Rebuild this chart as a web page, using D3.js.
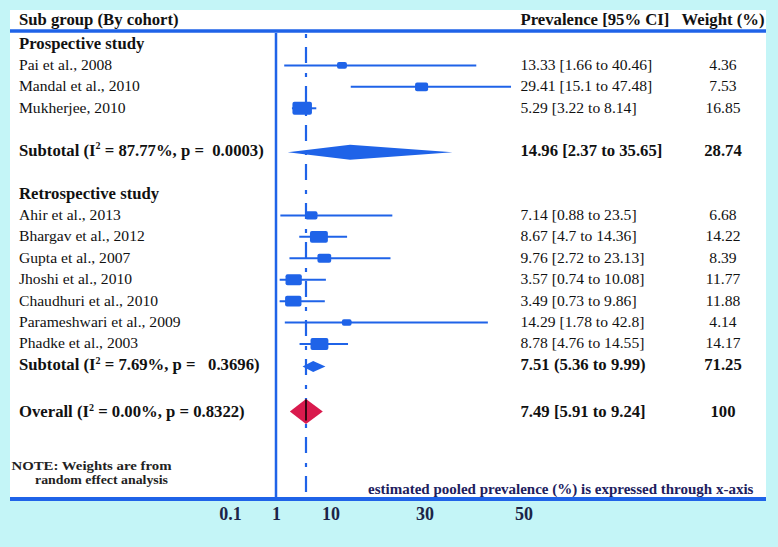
<!DOCTYPE html>
<html><head><meta charset="utf-8">
<script src="https://cdn.jsdelivr.net/npm/d3@7"></script>
<style>
body{margin:0;background:#c4f5f7}
svg{display:block}
text{font-family:"Liberation Serif","Times New Roman",serif;white-space:pre}
</style>
</head><body>
<svg id="chart" width="778" height="547"></svg>
<script>
// ---------------- data ----------------
const groups = ["Prospective study", "Retrospective study"];
const studies = ["Pai et al., 2008", "Mandal et al., 2010", "Mukherjee, 2010",
  "Ahir et al., 2013", "Bhargav et al., 2012", "Gupta et al., 2007", "Jhoshi et al., 2010",
  "Chaudhuri et al., 2010", "Parameshwari et al., 2009", "Phadke et al., 2003"];
const studyGroup = [0, 0, 0, 1, 1, 1, 1, 1, 1, 1];
const prevalence = [13.33, 29.41, 5.29, 7.14, 8.67, 9.76, 3.57, 3.49, 14.29, 8.78];
const ciLower = [1.66, 15.1, 3.22, 0.88, 4.7, 2.72, 0.74, 0.73, 1.78, 4.76];
const ciUpper = [40.46, 47.48, 8.14, 23.5, 14.36, 23.13, 10.08, 9.86, 42.8, 14.55];
const weights = [4.36, 7.53, 16.85, 6.68, 14.22, 8.39, 11.77, 11.88, 4.14, 14.17];

const subI2 = ["87.77%", "7.69%"];
const subP = [" 0.0003", "  0.3696"];
const subEst = [14.96, 7.51];
const subLower = [2.37, 5.36];
const subUpper = [35.65, 9.99];
const subText = ["14.96 [2.37 to 35.65]", "7.51 (5.36 to 9.99)"];
const subWeight = ["28.74", "71.25"];

const overallI2 = "0.00%";
const overallP = "0.8322";
const overallText = "7.49 [5.91 to 9.24]";
const overallWeight = "100";
// overall diamond as it is pictured (lower, centre, upper)
const overallDrawn = [2.8, 6.06, 9.45];
const referenceLine = 6.06;

const tickValues = [-9.3, 0, 11, 30, 50];
const tickLabels = ["0.1", "1", "10", "30", "50"];

// ---------------- layout ----------------
const svg = d3.select("#chart");
const BLUE = "#1f63e8";
const x = d3.scaleLinear().domain([0, 50]).range([276, 523.5]);
const y = d3.scaleLinear().domain([1, 15]).range([43, 343]);
const boxW = d3.scaleSqrt().domain([0, 16.85]).range([0, 19.5]);
const boxH = d3.scaleSqrt().domain([0, 16.85]).range([0, 13]);

const panelTop = 10, panelBottom = 499, panelLeft = 10, panelRight = 766;
const colName = 19, colCI = 520.5, colW = 723;
const FS = 15.6, FB = 16.7;

svg.append("rect").attr("x", panelLeft).attr("y", panelTop)
  .attr("width", panelRight - panelLeft).attr("height", panelBottom - panelTop)
  .attr("fill", "#fff");

// header
svg.append("text").attr("x", colName).attr("y", 19).attr("dy", "0.35em")
  .attr("font-size", FB).attr("font-weight", "bold").attr("fill", "#111")
  .text("Sub group (By cohort)");
svg.append("text").attr("x", colCI).attr("y", 19).attr("dy", "0.35em")
  .attr("font-size", FB).attr("font-weight", "bold").attr("fill", "#111")
  .text("Prevalence [95% CI]");
svg.append("text").attr("x", colW).attr("y", 19).attr("dy", "0.35em")
  .attr("text-anchor", "middle")
  .attr("font-size", FB).attr("font-weight", "bold").attr("fill", "#111")
  .text("Weight (%)");
svg.append("line").attr("x1", panelLeft).attr("x2", panelRight)
  .attr("y1", 31).attr("y2", 31).attr("stroke", BLUE).attr("stroke-width", 3.5);

// vertical lines
svg.append("line").attr("x1", x(0)).attr("x2", x(0))
  .attr("y1", 33).attr("y2", panelBottom).attr("stroke", BLUE).attr("stroke-width", 2.5);
svg.append("line").attr("x1", x(referenceLine)).attr("x2", x(referenceLine))
  .attr("y1", 34).attr("y2", panelBottom).attr("stroke", BLUE).attr("stroke-width", 2.2)
  .attr("stroke-dasharray", "4,9,16,10");

// rows
const rowsOfStudies = [2, 3, 4, 9, 10, 11, 12, 13, 14, 15];
const groupRow = [1, 8];
const subRow = [6, 16];
const overallRow = 18.2;

groups.forEach((g, i) => {
  svg.append("text").attr("x", colName).attr("y", y(groupRow[i])).attr("dy", "0.35em")
    .attr("font-size", FB).attr("font-weight", "bold").attr("fill", "#111").text(g);
});

const st = svg.append("g").selectAll("g").data(studies).join("g");
st.append("text").attr("x", colName).attr("y", (d, i) => y(rowsOfStudies[i])).attr("dy", "0.35em")
  .attr("font-size", FS).attr("fill", "#111").text(d => d);
st.append("text").attr("x", colCI).attr("y", (d, i) => y(rowsOfStudies[i])).attr("dy", "0.35em")
  .attr("font-size", FS).attr("fill", "#111")
  .text((d, i) => `${prevalence[i]} [${ciLower[i]} to ${ciUpper[i]}]`);
st.append("text").attr("x", colW).attr("y", (d, i) => y(rowsOfStudies[i])).attr("dy", "0.35em")
  .attr("text-anchor", "middle").attr("font-size", FS).attr("fill", "#111")
  .text((d, i) => weights[i].toFixed(2));
st.append("line")
  .attr("x1", (d, i) => x(ciLower[i])).attr("x2", (d, i) => x(ciUpper[i]))
  .attr("y1", (d, i) => y(rowsOfStudies[i]) + 1).attr("y2", (d, i) => y(rowsOfStudies[i]) + 1)
  .attr("stroke", BLUE).attr("stroke-width", 2);
st.append("rect")
  .attr("x", (d, i) => x(prevalence[i]) - boxW(weights[i]) / 2)
  .attr("y", (d, i) => y(rowsOfStudies[i]) + 1 - boxH(weights[i]) / 2)
  .attr("width", (d, i) => boxW(weights[i]))
  .attr("height", (d, i) => boxH(weights[i]))
  .attr("rx", 2).attr("fill", BLUE);

function statLabel(sel, prefix, i2, p) {
  sel.append("tspan").text(prefix + " (I");
  sel.append("tspan").attr("font-size", FB * 0.6).attr("dy", -6.5).text("2");
  sel.append("tspan").attr("dy", 6.5).text(` = ${i2}, p = ${p})`);
}

function diamond(lo, est, hi, cy, h) {
  return `M${x(lo)},${cy}L${x(est)},${cy - h / 2}L${x(hi)},${cy}L${x(est)},${cy + h / 2}Z`;
}

const subH = [15, 11];
groups.forEach((g, i) => {
  const cy = y(subRow[i]);
  const t = svg.append("text").attr("x", colName).attr("y", cy).attr("dy", "0.35em")
    .attr("font-size", FB).attr("font-weight", "bold").attr("fill", "#111");
  statLabel(t, "Subtotal", subI2[i], subP[i]);
  svg.append("text").attr("x", colCI).attr("y", cy).attr("dy", "0.35em")
    .attr("font-size", FB).attr("font-weight", "bold").attr("fill", "#111").text(subText[i]);
  svg.append("text").attr("x", colW).attr("y", cy).attr("dy", "0.35em").attr("text-anchor", "middle")
    .attr("font-size", FB).attr("font-weight", "bold").attr("fill", "#111").text(subWeight[i]);
  svg.append("path").attr("d", diamond(subLower[i], subEst[i], subUpper[i], cy + 2, subH[i]))
    .attr("fill", BLUE);
});

// overall
{
  const cy = y(overallRow);
  const t = svg.append("text").attr("x", colName).attr("y", cy).attr("dy", "0.35em")
    .attr("font-size", FB).attr("font-weight", "bold").attr("fill", "#111");
  statLabel(t, "Overall", overallI2, overallP);
  svg.append("text").attr("x", colCI).attr("y", cy).attr("dy", "0.35em")
    .attr("font-size", FB).attr("font-weight", "bold").attr("fill", "#111").text(overallText);
  svg.append("text").attr("x", colW).attr("y", cy).attr("dy", "0.35em").attr("text-anchor", "middle")
    .attr("font-size", FB).attr("font-weight", "bold").attr("fill", "#111").text(overallWeight);
  svg.append("path").attr("d", diamond(overallDrawn[0], overallDrawn[1], overallDrawn[2], cy, 25))
    .attr("fill", "#d91a4d");
  svg.append("line").attr("x1", x(overallDrawn[1])).attr("x2", x(overallDrawn[1]))
    .attr("y1", cy - 12).attr("y2", cy + 9).attr("stroke", "#000").attr("stroke-width", 1.5);
}

// note
svg.append("text").attr("x", 11.5).attr("y", 465.5).attr("dy", "0.35em")
  .attr("font-size", 12).attr("font-weight", "bold").attr("fill", "#222")
  .attr("textLength", 160).attr("lengthAdjust", "spacingAndGlyphs")
  .text("NOTE: Weights are from");
svg.append("text").attr("x", 35).attr("y", 479.5).attr("dy", "0.35em")
  .attr("font-size", 12).attr("font-weight", "bold").attr("fill", "#222")
  .attr("textLength", 133).attr("lengthAdjust", "spacingAndGlyphs")
  .text("random effect analysis");

svg.append("text").attr("x", 368).attr("y", 489).attr("dy", "0.35em")
  .attr("font-size", 15).attr("font-weight", "bold").attr("fill", "#20205e")
  .text("estimated pooled prevalence (%) is expressed through x-axis");

// axis
const axis = d3.axisBottom(x).tickValues(tickValues)
  .tickFormat((d, i) => tickLabels[i]).tickSize(0).tickPadding(8);
const ag = svg.append("g").attr("transform", `translate(0,${panelBottom})`).call(axis);
ag.select(".domain").remove();
ag.selectAll("text").attr("font-size", 18).attr("font-weight", "bold").attr("fill", "#1b2448")
  .style("font-family", '"Liberation Serif","Times New Roman",serif');
svg.append("line").attr("x1", panelLeft).attr("x2", panelRight)
  .attr("y1", panelBottom).attr("y2", panelBottom).attr("stroke", BLUE).attr("stroke-width", 4);
</script>
</body></html>
